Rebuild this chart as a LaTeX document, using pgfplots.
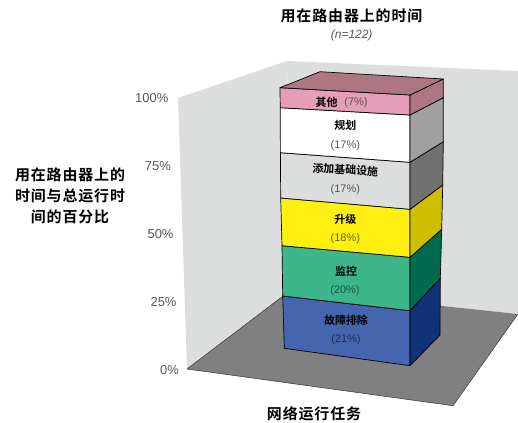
\documentclass[border=0pt]{standalone}
\usepackage{pgfplots}
\pgfplotsset{compat=1.18}
\usepackage{fontspec}
\setmainfont{Liberation Sans}
\newfontfamily\cjkb[BoldFont={Noto Sans CJK SC Bold},LetterSpace=6]{Noto Sans CJK SC}
\newfontfamily\cjks[BoldFont={Noto Sans CJK SC Bold}]{Noto Sans CJK SC}
\definecolor{wall}{HTML}{DCDDDD}
\definecolor{floorc}{HTML}{808080}
\definecolor{pinkf}{HTML}{E49EB8}
\definecolor{pinks}{HTML}{AE7582}
\definecolor{whites}{HTML}{A0A0A0}
\definecolor{grayf}{HTML}{DCDDDD}
\definecolor{grays}{HTML}{717171}
\definecolor{yelf}{HTML}{FFF011}
\definecolor{yels}{HTML}{CDBE00}
\definecolor{grnf}{HTML}{3CB68A}
\definecolor{grns}{HTML}{006A4E}
\definecolor{bluf}{HTML}{4565AE}
\definecolor{blus}{HTML}{103278}
\definecolor{txt}{HTML}{555555}
\begin{document}
\begin{tikzpicture}
\begin{axis}[
  hide axis, scale only axis, width=518bp, height=423bp,
  xmin=0, xmax=518, ymin=0, ymax=423, y dir=reverse,
  every axis plot/.append style={line join=round},
]
\path (axis cs:0,0) rectangle (axis cs:518,423);
% walls and floor
\addplot[fill=wall, draw=none] coordinates {(178,98) (287,61) (291,290) (187,369)} -- cycle;
\addplot[fill=wall, draw=none] coordinates {(287,61) (518,71) (518,314) (291,290)} -- cycle;
\addplot[fill=floorc, draw=none] coordinates {(187,369) (291,290) (518,314) (453,405.7)} -- cycle;
\addplot[draw=black!80, line width=0.5pt] coordinates {(291,290) (187,369) (453,405.7) (518,314)};
% stack: front faces
\addplot[fill=bluf, draw=black, line width=0.7pt] coordinates {(284.3,348.3) (410,365.7) (410,310.7) (282.7,296)} -- cycle;
\addplot[fill=blus, draw=black, line width=0.7pt] coordinates {(410,365.7) (440,335) (440.3,278.3) (410,310.7)} -- cycle;
\addplot[fill=grnf, draw=black, line width=0.7pt] coordinates {(282.7,296) (410,310.7) (410,257.3) (282,245.7)} -- cycle;
\addplot[fill=grns, draw=black, line width=0.7pt] coordinates {(410,310.7) (440.3,278.3) (441.7,229.3) (410,257.3)} -- cycle;
\addplot[fill=yelf, draw=black, line width=0.7pt] coordinates {(282,245.7) (410,257.3) (410,209.3) (280.7,198)} -- cycle;
\addplot[fill=yels, draw=black, line width=0.7pt] coordinates {(410,257.3) (441.7,229.3) (442.7,185) (410,209.3)} -- cycle;
\addplot[fill=grayf, draw=black, line width=0.7pt] coordinates {(280.7,198) (410,209.3) (410,162.3) (280.4,152.7)} -- cycle;
\addplot[fill=grays, draw=black, line width=0.7pt] coordinates {(410,209.3) (442.7,185) (443.3,141.7) (410,162.3)} -- cycle;
\addplot[fill=white, draw=black, line width=0.7pt] coordinates {(280.4,152.7) (410,162.3) (410,115) (280.2,107.7)} -- cycle;
\addplot[fill=whites, draw=black, line width=0.7pt] coordinates {(410,162.3) (443.3,141.7) (443.3,97.7) (410,115)} -- cycle;
\addplot[fill=pinkf, draw=black, line width=0.7pt] coordinates {(280.2,107.7) (410,115) (410,95) (280,87.7)} -- cycle;
\addplot[fill=pinks, draw=black, line width=0.7pt] coordinates {(410,115) (443.3,97.7) (443.3,79) (410,95)} -- cycle;
\addplot[fill=pinks, draw=black, line width=0.7pt] coordinates {(280,87.7) (410,95) (443.3,79) (320,71.7)} -- cycle;
% titles
\node[font=\cjkb\bfseries\fontsize{15}{18}\selectfont] at (axis cs:351.5,15.5) {用在路由器上的时间};
\node[text=txt, font=\itshape\fontsize{12}{14}\selectfont] at (axis cs:351.7,35) {(n=122)};
\node[align=center, font=\cjkb\bfseries\fontsize{15}{21}\selectfont] at (axis cs:70,196) {用在路由器上的\\时间与总运行时\\间的百分比};
\node[font=\cjkb\bfseries\fontsize{15}{18}\selectfont] at (axis cs:314,414) {网络运行任务};
% value axis labels
\node[anchor=east, inner sep=0pt, text=txt, font=\fontsize{13}{15}\selectfont] at (axis cs:168.5,98) {100\%};
\node[anchor=east, inner sep=0pt, text=txt, font=\fontsize{13}{15}\selectfont] at (axis cs:171,166.5) {75\%};
\node[anchor=east, inner sep=0pt, text=txt, font=\fontsize{13}{15}\selectfont] at (axis cs:173.7,234.5) {50\%};
\node[anchor=east, inner sep=0pt, text=txt, font=\fontsize{13}{15}\selectfont] at (axis cs:176.7,302.5) {25\%};
\node[anchor=east, inner sep=0pt, text=txt, font=\fontsize{13}{15}\selectfont] at (axis cs:179,370) {0\%};
% segment labels
\node[font=\cjks\bfseries\fontsize{11}{12}\selectfont] at (axis cs:326.7,102) {其他};
\node[text=txt, font=\fontsize{11}{12}\selectfont] at (axis cs:356,102.2) {(7\%)};
\node[font=\cjks\bfseries\fontsize{11}{12}\selectfont] at (axis cs:345.3,125.8) {规划};
\node[text=txt, font=\fontsize{11}{12}\selectfont] at (axis cs:345.3,145.2) {(17\%)};
\node[rotate=-3, font=\cjks\bfseries\fontsize{11}{12}\selectfont] at (axis cs:345.3,169.8) {添加基础设施};
\node[text=txt, font=\fontsize{11}{12}\selectfont] at (axis cs:345.3,189.8) {(17\%)};
\node[font=\cjks\bfseries\fontsize{11}{12}\selectfont] at (axis cs:345.3,219.8) {升级};
\node[text=black!60!yelf, font=\fontsize{11}{12}\selectfont] at (axis cs:345.3,238.8) {(18\%)};
\node[font=\cjks\bfseries\fontsize{11}{12}\selectfont] at (axis cs:346,271.2) {监控};
\node[text=black!55!grnf, font=\fontsize{11}{12}\selectfont] at (axis cs:345,290.5) {(20\%)};
\node[font=\cjks\bfseries\fontsize{11}{12}\selectfont] at (axis cs:346,319.8) {故障排除};
\node[text=black!55!bluf, font=\fontsize{11}{12}\selectfont] at (axis cs:346,339.5) {(21\%)};
\end{axis}
\end{tikzpicture}
\end{document}
